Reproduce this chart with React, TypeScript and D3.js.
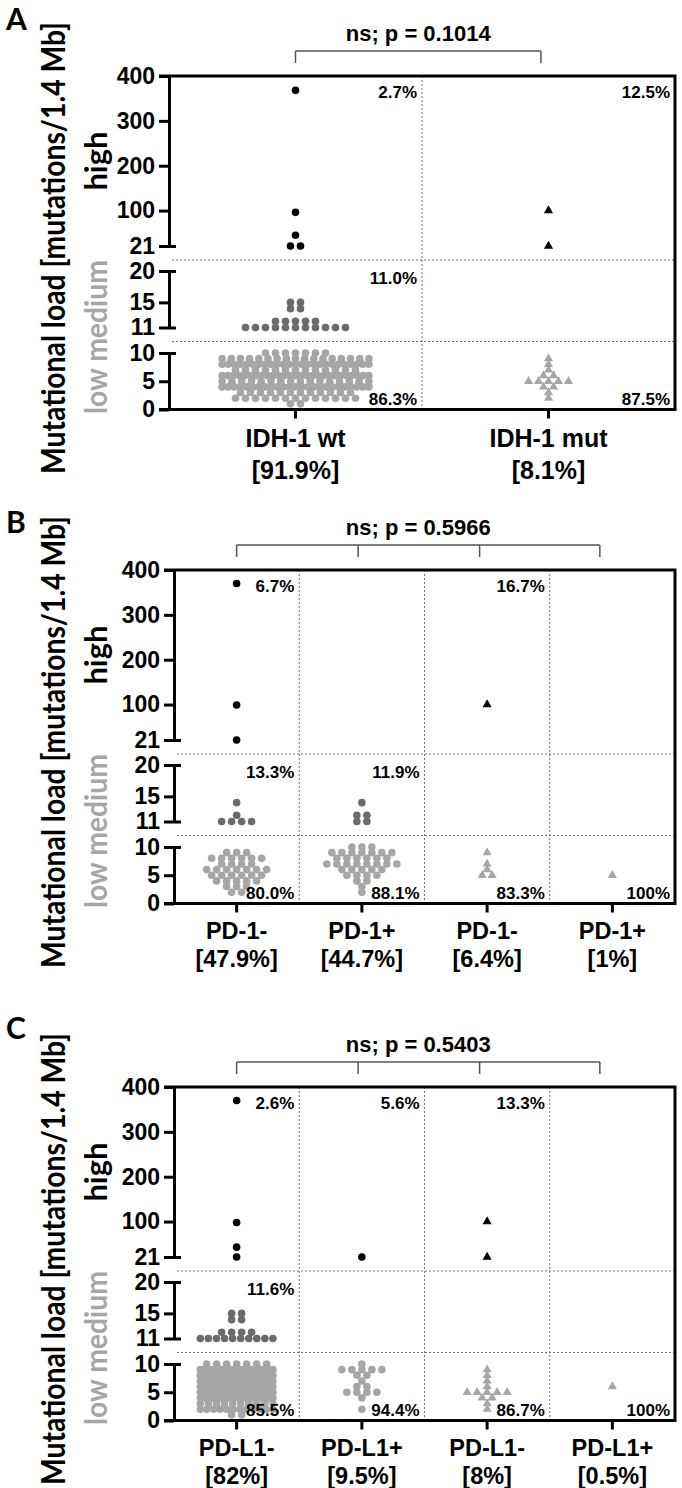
import { useEffect, useRef } from "react";
import * as d3 from "d3";

// each section of a group is a list of [mutations, number of samples]
type Row = [number, number];

// ---- A: IDH-1 status ----
const idhLabels = ["IDH-1 wt", "IDH-1 mut"];
const idhShares = ["[91.9%]", "[8.1%]"];
const idhMarkers = ["circle", "triangle"];
const idhHigh: Row[][] = [
  [[368, 1], [96, 1], [45, 1], [21, 2]],
  [[100, 1], [21, 1]],
];
const idhMedium: Row[][] = [[[15, 2], [14, 2], [12, 5], [11, 11]], []];
const idhLow: Row[][] = [
  [[10, 7], [9, 17], [8, 25], [7, 13], [6, 27], [5, 16], [4, 25], [3, 12], [2, 13], [1, 2]],
  [[9, 1], [8, 1], [7, 1], [6, 2], [5, 5], [4, 2], [3, 1], [2, 1]],
];
const idhPctHigh = ["2.7%", "12.5%"];
const idhPctMedium = ["11.0%", ""];
const idhPctLow = ["86.3%", "87.5%"];
const idhP = "ns; p = 0.1014";
const idhBracket = [0, 0.97];

// ---- B: PD-1 within IDH-1 wt / mut ----
const pd1Labels = ["PD-1-", "PD-1+", "PD-1-", "PD-1+"];
const pd1Shares = ["[47.9%]", "[44.7%]", "[6.4%]", "[1%]"];
const pd1Markers = ["circle", "circle", "triangle", "triangle"];
const pd1High: Row[][] = [[[370, 1], [99, 1], [21, 1]], [], [[100, 1]], []];
const pd1Medium: Row[][] = [
  [[14, 1], [12, 1], [11, 4]],
  [[14, 1], [12, 2], [11, 2]],
  [],
  [],
];
const pd1Low: Row[][] = [
  [[9, 3], [8, 6], [7, 4], [6, 7], [5, 6], [4, 5], [3, 3], [2, 2]],
  [[10, 3], [9, 7], [8, 6], [7, 8], [6, 5], [5, 4], [4, 2], [3, 1], [2, 1]],
  [[9, 1], [7, 1], [6, 1], [5, 2]],
  [[5, 1]],
];
const pd1PctHigh = ["6.7%", "", "16.7%", ""];
const pd1PctMedium = ["13.3%", "11.9%", "", ""];
const pd1PctLow = ["80.0%", "88.1%", "83.3%", "100%"];
const pd1P = "ns; p = 0.5966";
const pd1Bracket = [0, 0.97, 1.94, 2.9];

// ---- C: PD-L1 within IDH-1 wt / mut ----
const pdl1Labels = ["PD-L1-", "PD-L1+", "PD-L1-", "PD-L1+"];
const pdl1Shares = ["[82%]", "[9.5%]", "[8%]", "[0.5%]"];
const pdl1Markers = ["circle", "circle", "triangle", "triangle"];
const pdl1High: Row[][] = [
  [[370, 1], [98, 1], [43, 1], [21, 1]],
  [[21, 1]],
  [[100, 1], [21, 1]],
  [],
];
const pdl1Medium: Row[][] = [[[15, 2], [14, 2], [12, 4], [11, 10]], [], [], []];
const pdl1Low: Row[][] = [
  [[10, 7], [9, 18], [8, 20], [7, 12], [6, 20], [5, 12], [4, 20], [3, 10], [2, 12], [1, 2]],
  [[10, 1], [9, 5], [8, 2], [7, 1], [6, 2], [5, 4], [4, 1], [2, 1]],
  [[9, 1], [8, 1], [7, 1], [6, 1], [5, 5], [4, 2], [3, 1], [2, 1]],
  [[6, 1]],
];
const pdl1PctHigh = ["2.6%", "5.6%", "13.3%", ""];
const pdl1PctMedium = ["11.6%", "", "", ""];
const pdl1PctLow = ["85.5%", "94.4%", "86.7%", "100%"];
const pdl1P = "ns; p = 0.5403";
const pdl1Bracket = [0, 0.97, 1.94, 2.9];

const FONT = "'Liberation Sans', Arial, sans-serif";
const TITLE_FONT = "Lato, 'Open Sans', sans-serif";
const LIGHT = "#a6a6a6";
const MID = "#6b6b6b";

const panels = [
  {
    letter: "A", letterY: 30, top: 76, left: 169, right: 675, catSize: 25, cat1: 37, cat2: 69,
    labels: idhLabels, shares: idhShares, markers: idhMarkers,
    high: idhHigh, medium: idhMedium, low: idhLow,
    pctHigh: idhPctHigh, pctMedium: idhPctMedium, pctLow: idhPctLow,
    pText: idhP, bracket: idhBracket,
  },
  {
    letter: "B", letterY: 533, top: 570, left: 174, right: 675, catSize: 23.5, cat1: 35, cat2: 63,
    labels: pd1Labels, shares: pd1Shares, markers: pd1Markers,
    high: pd1High, medium: pd1Medium, low: pd1Low,
    pctHigh: pd1PctHigh, pctMedium: pd1PctMedium, pctLow: pd1PctLow,
    pText: pd1P, bracket: pd1Bracket,
  },
  {
    letter: "C", letterY: 1039, top: 1087, left: 174, right: 675, catSize: 23.5, cat1: 35, cat2: 63,
    labels: pdl1Labels, shares: pdl1Shares, markers: pdl1Markers,
    high: pdl1High, medium: pdl1Medium, low: pdl1Low,
    pctHigh: pdl1PctHigh, pctMedium: pdl1PctMedium, pctLow: pdl1PctLow,
    pText: pdl1P, bracket: pdl1Bracket,
  },
];

type Panel = (typeof panels)[number];

function drawPanel(svg: d3.Selection<SVGSVGElement, unknown, null, undefined>, p: Panel) {
  const g = svg.append("g");
  const n = p.labels.length;
  const top = p.top;

  const x = d3.scaleBand<number>().domain(d3.range(n)).range([p.left, p.right]);
  const center = (i: number) => (x(i) as number) + x.bandwidth() / 2;
  const yHigh = d3.scaleLinear().domain([21, 400]).range([top + 170, top]);
  const yMed = d3.scaleLinear().domain([11, 20]).range([top + 251.5, top + 195]);
  const yLow = d3.scaleLinear().domain([0, 10]).range([top + 333.5, top + 277]);
  const bottom = yLow(0);
  const seps = [top + 184, top + 265.5];

  // dotted separators
  const grid = g.append("g")
    .attr("stroke", "#707070")
    .attr("stroke-width", 1)
    .attr("stroke-dasharray", "2,2");
  seps.forEach((y) => {
    grid.append("line").attr("x1", p.left + 3).attr("x2", p.right).attr("y1", y).attr("y2", y);
  });
  d3.range(1, n).forEach((i) => {
    const xv = x(i) as number;
    grid.append("line").attr("x1", xv).attr("x2", xv).attr("y1", top).attr("y2", bottom);
  });

  // points, one row per value, spread around the group centre
  const halfW = x.bandwidth() * 0.29;
  const sections = [
    { data: p.high, y: yHigh, color: "#000" },
    { data: p.medium, y: yMed, color: MID },
    { data: p.low, y: yLow, color: LIGHT },
  ];
  const tri = d3.symbol(d3.symbolTriangle, 36)();
  const dots = g.append("g");
  sections.forEach((sec) => {
    sec.data.forEach((rows, i) => {
      const cx = center(i);
      rows.forEach(([v, c]) => {
        const step = c > 1 ? Math.min(10, (2 * halfW) / (c - 1)) : 0;
        d3.range(c).forEach((k) => {
          const px = cx + (k - (c - 1) / 2) * step;
          const py = sec.y(v);
          if (p.markers[i] === "triangle") {
            dots.append("path")
              .attr("d", tri)
              .attr("transform", `translate(${px},${py})`)
              .attr("fill", sec.color);
          } else {
            dots.append("circle").attr("cx", px).attr("cy", py).attr("r", 3.8).attr("fill", sec.color);
          }
        });
      });
    });
  });

  // frame
  g.append("path")
    .attr("d", `M${p.left - 10},${top}H${p.right}V${bottom}H${p.left - 10}`)
    .attr("fill", "none")
    .attr("stroke", "#000")
    .attr("stroke-width", 3);

  // broken y axis
  const segs = [
    { scale: yHigh, ticks: [21, 100, 200, 300, 400], caps: [21] },
    { scale: yMed, ticks: [11, 15, 20], caps: [11, 20] },
    { scale: yLow, ticks: [0, 5, 10], caps: [10] },
  ];
  segs.forEach((s) => {
    const ax = g.append("g")
      .attr("transform", `translate(${p.left},0)`)
      .call(
        d3.axisLeft(s.scale)
          .tickValues(s.ticks)
          .tickSize(10)
          .tickSizeOuter(0)
          .tickPadding(4)
          .tickFormat(d3.format("d")),
      );
    ax.select(".domain").attr("stroke-width", 3);
    ax.selectAll<SVGLineElement, number>(".tick line")
      .attr("stroke-width", 3)
      .attr("x1", (d) => (s.caps.includes(d) ? 7 : 0));
    ax.selectAll(".tick text")
      .attr("font-family", FONT)
      .attr("font-weight", "bold")
      .attr("font-size", 23)
      .attr("fill", "#000");
  });

  // x axis ticks and labels
  const xa = g.append("g")
    .attr("transform", `translate(0,${bottom})`)
    .call(d3.axisBottom(x).tickSize(9).tickSizeOuter(0).tickFormat(() => ""));
  xa.select(".domain").remove();
  xa.selectAll(".tick line").attr("stroke-width", 3);
  d3.range(n).forEach((i) => {
    const t = g.append("text")
      .attr("text-anchor", "middle")
      .attr("font-family", FONT)
      .attr("font-weight", "bold")
      .attr("font-size", p.catSize)
      .attr("fill", "#000");
    t.append("tspan").attr("x", center(i)).attr("y", bottom + p.cat1).text(p.labels[i]);
    t.append("tspan").attr("x", center(i)).attr("y", bottom + p.cat2).text(p.shares[i]);
  });

  // percentages
  const pct = g.append("g")
    .attr("font-family", FONT)
    .attr("font-weight", "bold")
    .attr("font-size", 17)
    .attr("text-anchor", "end");
  d3.range(n).forEach((i) => {
    const xr = (x(i) as number) + x.bandwidth() - 5;
    pct.append("text").attr("x", xr).attr("y", top + 22).text(p.pctHigh[i]);
    pct.append("text").attr("x", xr).attr("y", top + 208).text(p.pctMedium[i]);
    pct.append("text").attr("x", xr).attr("y", bottom - 4.5).text(p.pctLow[i]);
  });

  // comparison bracket
  const bx = d3.scaleLinear().domain([0, 1]).range([center(0), center(0) + x.step()]);
  const by = top - 25;
  const stops = p.bracket.map((b) => bx(b));
  const br = g.append("g").attr("stroke", "#555").attr("stroke-width", 1.5).attr("fill", "none");
  br.append("line").attr("x1", stops[0]).attr("x2", stops[stops.length - 1]).attr("y1", by).attr("y2", by);
  stops.forEach((sx) => {
    br.append("line").attr("x1", sx).attr("x2", sx).attr("y1", by).attr("y2", by + 12);
  });
  g.append("text")
    .attr("x", (stops[0] + stops[stops.length - 1]) / 2)
    .attr("y", top - 35)
    .attr("text-anchor", "middle")
    .attr("font-family", FONT)
    .attr("font-weight", "bold")
    .attr("font-size", 22)
    .text(p.pText);

  // panel letter
  g.append("text")
    .attr("x", 6)
    .attr("y", p.letterY)
    .attr("font-family", TITLE_FONT)
    .attr("font-weight", "bold")
    .attr("font-size", 30)
    .text(p.letter);

  // y titles
  g.append("text")
    .attr("transform", `translate(65,${top + 172}) rotate(-90)`)
    .attr("text-anchor", "middle")
    .attr("font-family", TITLE_FONT)
    .attr("font-weight", "bold")
    .attr("font-size", 33)
    .attr("textLength", 452)
    .attr("lengthAdjust", "spacingAndGlyphs")
    .text("Mutational load [mutations/1.4 Mb]");
  g.append("text")
    .attr("transform", `translate(107,${(yHigh(21) + yHigh(400)) / 2}) rotate(-90)`)
    .attr("text-anchor", "middle")
    .attr("font-family", TITLE_FONT)
    .attr("font-weight", "bold")
    .attr("font-size", 31)
    .text("high");
  g.append("text")
    .attr("transform", `translate(107,${top + 261}) rotate(-90)`)
    .attr("text-anchor", "middle")
    .attr("font-family", TITLE_FONT)
    .attr("font-weight", "bold")
    .attr("font-size", 31)
    .attr("fill", LIGHT)
    .attr("textLength", 154)
    .attr("lengthAdjust", "spacingAndGlyphs")
    .text("low medium");
}

export default function App() {
  const ref = useRef<SVGSVGElement>(null);

  useEffect(() => {
    document.body.style.margin = "0";
    const svg = d3.select(ref.current as SVGSVGElement);
    svg.selectAll("*").remove();
    panels.forEach((p) => drawPanel(svg, p));
  }, []);

  return (
    <svg ref={ref} width={682} height={1488} style={{ display: "block", background: "#fff" }} />
  );
}
